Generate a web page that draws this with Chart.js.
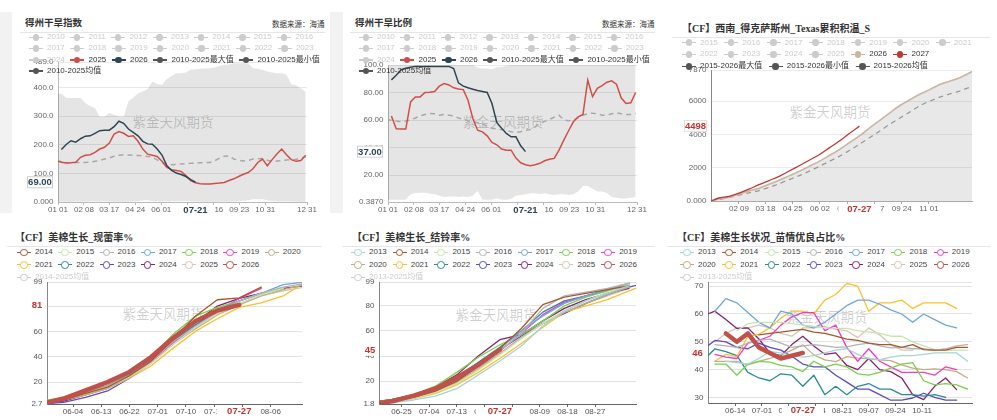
<!DOCTYPE html>
<html><head><meta charset="utf-8">
<script src="https://cdn.jsdelivr.net/npm/chart.js@4.4.1/dist/chart.umd.min.js"></script>
<style>
html,body{margin:0;padding:0;background:#fff;}
body{width:997px;height:420px;position:relative;overflow:hidden;font-family:"Liberation Sans","Noto Sans CJK SC",sans-serif;}
canvas{position:absolute;z-index:2;}
.strip{position:absolute;background:#f2f2f2;z-index:0;}
.title{position:absolute;font-family:"Liberation Serif","Noto Sans CJK SC",serif;font-weight:bold;color:#333;white-space:nowrap;line-height:1;z-index:3;}
.src{position:absolute;font-size:7.5px;color:#333;line-height:1;white-space:nowrap;z-index:3;font-family:"Noto Sans CJK SC";}
.sep{position:absolute;height:1px;background:#e6e6e6;z-index:3;}
.wm{position:absolute;font-family:"Noto Sans CJK SC";font-size:13.5px;color:rgba(0,0,0,0.2);line-height:1;white-space:nowrap;transform:translate(-50%,-50%);z-index:1;}
.lrow{position:absolute;display:flex;align-items:center;height:10px;white-space:nowrap;z-index:3;}
.li{display:flex;align-items:center;font-size:8px;line-height:1;}
.ic{position:relative;width:14px;height:8px;margin-right:4px;flex:none;}
.ic .ln{position:absolute;left:0;right:0;top:3.25px;height:1.5px;}
.ic .dt{position:absolute;border-radius:50%;box-sizing:border-box;}
</style></head><body>
<script>
// ---------- Panel 1 & 2 : 得州干旱指数 / 得州干旱比例 ----------
const D12 = [-2,5,12,19,26,33,40,47,54,61,68,75,82,89,96,103,110,117,124,131,138,145,152,159,166,173,180,187,194,201,208,215,222,229,236,243,250,257,264,271,278,285,292,299,306,313,320,327,334,341,348,355,362];
const P1_2025 = [144,139,136,137,139,156,163,165,173,185,191,206,237,246,240,229,231,212,185,167,163,159,142,121,113,110,107,92,75,67,64,63,63,65,66,68,75,81,89,97,103,116,138,150,127,148,168,185,165,148,142,145,163];
const P1_2026 = [null,183,201,214,209,221,230,231,240,249,251,251,263,282,275,255,243,231,212,203,202,185,164,127,110,101,96,89,78,69];
const P1_AVG = [144,141,137,137,138,138,138,139,142,145,150,154,160,163,165,164,163,162,161,159,157,147,138,133,130,131,133,134,135,136,137,138,138,144,153,160,161,150,146,143,145,150,151,152,146,142,143,145,147,148,149,152,158];
const P1_MAX = [378,378,363,363,363,363,345,335,328,299,299,310,305,299,299,352,365,380,386,395,421,412,409,430,440,450,450,452,462,464,465,466,467,470,475,479,480,485,485,485,485,467,465,462,456,452,450,450,445,412,408,397,385];
const P1_MIN = [1,1,1,1,1,1,1,2,2,2,2,1,1,1,1,1,2,3,6,6,3,2,2,2,3,3,3,3,2,2,1,1,1,1,1,1,1,2,3,4,6,10,10,10,6,3,2,2,2,2,1,1,1];
const P12_X_TICKS = [0,38,75,113,151,189,227,265,303,364];
const P12_X_LABELS = ['01 01','02 08','03 17','04 24','06 01','07 09','08 16','09 23','10 31','12 31'];
const P1_Y_TICKS = [0,100,200,300,400,489];
const P1_Y_LABELS = ['0.000','100.0','200.0','300.0','400.0','489.0'];

const P2_2025 = [null,63,53.6,53.4,53.4,73.2,76.8,76.8,80,80.2,80.7,84.6,86.5,85.5,83.4,82.6,82.1,74.4,61.1,52.6,51.4,48.5,43.7,42,38.9,38.1,38.1,32.3,28.9,27.5,26.8,27.5,28.5,30.4,31.4,32.1,38.1,45.4,52.2,58.7,62.3,64,89,77,83,85,87.5,88.5,86,76,72,72.5,80];
const P2_2026 = [null,89.2,92.5,96.4,97.6,98.3,99,99,99,99,99,99,99,99,97.4,87,84.6,83.4,82.4,81.4,80.7,80,72,58.2,54.1,50.2,47.8,47.8,41.3,37];
const P2_AVG = [60.4,59.8,59.2,58.7,59.3,60,61.5,63,64,64.8,64.5,63.5,64,63.5,63,61.5,60.5,59.5,59,58,57,55.5,54,53.5,53,52.5,51.5,51,51.5,52.5,53,55,57.5,59,60.5,62,63.5,60,59.5,60,61.5,63.5,64.5,65,64.5,63.5,63.5,64.5,65.3,64.5,64,64,64.8];
const P2_MAX = [100,100,100,100,100,100,100,100,100,100,100,100,100,100,100,100,100,100,100,98,97.5,97.5,97,98.5,98.5,99.5,100,100,100,100,100,100,100,100,100,100,100,100,100,100,100,100,100,100,100,100,100,100,100,100,100,100,100];
const P2_MIN = [2,2,2,2,2,6,7,7.2,7.2,6.5,6,5,4,4.3,4.3,4,4.3,4,5,8.4,2,2,2,3,2,2,2.5,5,5.5,6,6.7,6.7,6,6.7,6,5.5,6,6,5.5,6,8,12,12,10,8,8,7,4,3.5,3,3,3.5,4];
const P2_Y_TICKS = [0.387,20,40,60,80,100];
const P2_Y_LABELS = ['0.3870','20.00','40.00','60.00','80.00','100.0'];

// ---------- Panel 3 : Texas 累积积温 ----------
const D3 = [0,11,25,39,53,67,81,95,109,123,137,151,165,179,193,207,221,235,249,263,277,291,305,319,333,347,361,364];
const P3_MAX = [0,140,245,440,620,790,1030,1260,1540,1810,2110,2410,2760,3120,3530,3940,4410,4860,5310,5750,6100,6440,6720,7030,7230,7430,7740,7800];
const P3_2026 = [0,130,230,425,600,770,1010,1240,1510,1780,2080,2380,2730,3090,3500,3910,4380,4830,5280,5720,6070,6410,6690,7000,7200,7400,7710,7770];
const P3_AVG = [0,90,200,360,490,630,820,1040,1280,1520,1790,2080,2380,2680,3030,3410,3800,4190,4600,4970,5340,5720,6000,6240,6430,6600,6840,6870];
const P3_2027 = [0,180,280,470,710,980,1230,1480,1800,2120,2450,2780,3190,3600,4060,4498];
const P3_X_TICKS = [39,76,114,152,190,228,266,304];
const P3_X_LABELS = ['02 09','03 18','04 25','06 02','07 10','08 17','09 24','11 01'];
const P3_Y_TICKS = [0,2000,4000,6000,7870];
const P3_Y_LABELS = ['0.000','2000','4000','6000','7870'];

// ---------- Panel 4 : 现蕾率 ----------
const D4 = [144,151,158,165,172,179,186,193,200,207,214,221,228];
const P4_SERIES = {
  '2014':[3,6,11,16,25,37,54,72,85,86.5,95],
  '2015':[3.5,7,11,16,24,35,50,63,74,82,89,94],
  '2016':[3,6.5,11,17,25,37,52,64,75,84,90,95,98],
  '2017':[3.5,7,12,17,26,39,56,67,77,84,90,97,99],
  '2018':[5,8,12,17,26,40,58,72,79,84,90,94],
  '2019':[3,7,12,17,25,36,51,63,76,86,94],
  '2020':[3,6,10,15,23,35,50,62,73,81,88,93,97],
  '2021':[3,6,10,15,23,33,47,60,70,79,82.5,88,99],
  '2022':[3.5,7,12,17,26,38,53,65,76,84,90,94],
  '2023':[2.7,4,8,13,23,37,52,65,76,84,90,94],
  '2024':[2.7,5,10,15,25,40,55,67,80,86,90,94,96],
  '2025':[3,6,11,16,24,36,51,63,74,82,88,92,95],
  '2026':[2.7,7,13.5,20,28,40,55,68,76.5,81]
};
const P4_X_TICKS = [154,163,172,181,190,199,208,217];
const P4_X_LABELS = ['06-04','06-13','06-22','07-01','07-10','07-19','07-28','08-06'];
const P4_Y_TICKS = [2.7,20,40,60,80,99];
const P4_Y_LABELS = ['2.7','20','40','60','80','99'];

// ---------- Panel 5 : 结铃率 ----------
const D5 = [165,172,179,186,193,200,207,214,221,228,235,242,249,256];
const P5_SERIES = {
  '2013':[1.8,3,5,8,14,25,36,48,64,76,84,90,96],
  '2014':[2,5,7,12,20,32,46,62,81,87,90,93,96],
  '2015':[2.5,4,6.5,11,18,29,41,54,66,76,84,91,97],
  '2016':[2,4,7,12,20,31,44,58,78,88,91,94,98],
  '2017':[2,4.5,7.5,13,21,33,46,60,72,82,88,93,98],
  '2018':[3,5.5,9,16,27,39,49,57,68,80,87,92,96],
  '2019':[2,4,7,12,20,32,44,58,73,83,88,93,98],
  '2020':[2,4,7,12,19,30,42,55,66,75,82,89,95],
  '2021':[1.8,3.5,6,10,17,27,38,50,63,75,80,85,92,98],
  '2022':[3,5.5,9,14,23,35,47,60,75,84,88,92,97],
  '2023':[2,4,7,12,20,32,45,56,66,74,82,89,95,99],
  '2024':[3,5.5,9,15,25,40,53,57,68,78,85,90,94],
  '2025':[2,4,7,11,19,30,42,54,66,74,82,88,94],
  '2026':[1.8,4,8.5,14,23,33,45]
};
const P5_X_TICKS = [175,184,193,202,211,220,229,238];
const P5_X_LABELS = ['06-25','07-04','07-13','07-22','07-31','08-09','08-18','08-27'];
const P5_Y_TICKS = [1.8,20,40,60,80,99];
const P5_Y_LABELS = ['1.8','20','40','60','80','99'];

// ---------- Panel 6 : 苗情优良占比 ----------
const D6 = [144,151,158,165,172,179,186,193,200,207,214,221,228,235,242,249,256,263,270,277,284,291,298,305,312];
const P6_SERIES = {
  '2013':[null,null,43,42.5,42,44,46.5,46,45,44.5,45,46,47,47.5,45.5,44,43.5,44.5,45,45,45.5,46,46,46,43],
  '2014':[null,null,null,null,null,52.5,53,53.5,54,54.5,53.5,53,52,51,50.5,49.5,49,49,48,49,47.2,47,47,48,48],
  '2015':[null,null,null,54,56.5,57,57,57,56.5,56,55.5,55,54.8,54.8,54,53.5,53,52,52,50,48.5,47.2,46.8,47,47],
  '2016':[null,49,48.5,48,49.5,50.5,51,49.5,48,48.5,49,48.5,48,48.2,49,49.5,48.5,47.8,48,47.5,47.5,46.8,47.5,48.5,49],
  '2017':[null,61,65.5,64,60.5,57,55,61,60,56,55,57,60,63,65,65,63.5,61.5,60,57,60,58,56,55],
  '2018':[null,42,42,38,42,43,42.7,41.5,41,39.3,43,41,42,41,38.5,38,39,40.5,42,42.5,36,34.5,35,34.5,33],
  '2019':[null,45.5,44.5,44,49.5,50.5,52,56,59,60.5,60.5,54,56,48,43,47.5,43,41,39,39,39,38,41,40],
  '2020':[null,43,43,43,41.7,43,44,45.3,47,48.9,45.3,43.5,42.9,44.7,44.1,44,43.5,43.2,41.7,40.5,40,40.3,40,39.3,37],
  '2021':[null,43,45.5,44.7,52,52.7,55,58.5,61,61,60,65,67,71,70,61,64,64,65,62,64,64,64,62],
  '2022':[43.5,47.5,46.5,45,39,37,36,38.5,38,34,38,31,34,31,34,35,33,33,31,31,30.5,31,30],
  '2023':[47.5,50.5,50,48,47.5,49.5,48,47,44.8,42,41,41,38,35.5,33,33,31,29,29,29.8,31.5,30,29,29],
  '2024':[59.5,61,58,54.8,55,51,46,45,49,52,48.5,45.5,46,41.5,40,44,40,39.3,37,31,29.2,34,37,32.8],
  '2025':[null,50,53,55,55,56,55,53,52,55,55,55.5,54.5,54,51.5,55,52.5,49,47,47],
  '2026':[null,null,53,50,53,48,46,44,45,46]
};
const P6_X_TICKS = [164,181,198,215,232,249,266,283];
const P6_X_LABELS = ['06-14','07-01','07-18','08-04','08-21','09-07','09-24','10-11'];
const P6_Y_TICKS = [30,40,50,60,70,71.5];
const P6_Y_LABELS = ['30','40','50','60','70',''];

// ---------- styles ----------
const YEAR_COLORS = {'2013':'#a3d5d8','2014':'#a5582c','2015':'#c8e3b0','2016':'#b3b3b3','2017':'#6ea6dd','2018':'#78d14c','2019':'#ef3dc4','2020':'#c1ae82','2021':'#fbc02d','2022':'#2a8d92','2023':'#5b4cc0','2024':'#8a1f6c','2025':'#d6c6b4','2026':'#c0504a'};
const DIM = '#cccccc';

Chart.defaults.font.family = '"Liberation Sans","Noto Sans CJK SC",sans-serif';
Chart.defaults.font.size = 8;
Chart.defaults.color = '#666';

const hlPlugin = {
  id: 'hl',
  afterDraw(chart, args, o) {
    if (!o || !o.on) return;
    const ctx = chart.ctx, ca = chart.chartArea;
    const xs = chart.scales.x, ys = chart.scales.y;
    ctx.save();
    ctx.font = 'bold 9.5px "Liberation Sans"';
    ctx.textAlign = 'center'; ctx.textBaseline = 'middle';
    const x = xs.getPixelForValue(o.xVal);
    const hl = o.xHalfL || o.xHalf, hr = o.xHalfR || o.xHalf;
    ctx.fillStyle = '#fff';
    ctx.fillRect(x - hl, ca.bottom + 3.5, hl + hr, 13);
    ctx.fillStyle = o.xColor;
    ctx.fillText(o.xText, x, ca.bottom + o.xDy);
    const y = ys.getPixelForValue(o.yVal);
    const l = o.yBox[0] - o.offX, r = o.yBox[1] - o.offX;
    ctx.fillStyle = '#fff';
    ctx.fillRect(l, y - 6, r - l, 12);
    if (o.yBorder) { ctx.strokeStyle = o.yBorder; ctx.lineWidth = 1; ctx.strokeRect(l + 0.5, y - 5.5, r - l - 1, 11); }
    ctx.fillStyle = o.yColor;
    ctx.fillText(o.yText, (l + r) / 2, y + 0.5);
    ctx.restore();
  }
};
Chart.register(hlPlugin);

function pts(D, vals) { return vals.map((v, i) => ({x: D[i], y: v})); }

function el(cls, css, text) {
  const d = document.createElement('div');
  d.className = cls; Object.assign(d.style, css);
  if (text !== undefined) d.textContent = text;
  document.body.appendChild(d); return d;
}

function legendRow(left, cy, gap, items, hollow) {
  const row = el('lrow', {left: left + 'px', top: (cy - 5) + 'px', gap: gap + 'px'});
  items.forEach(([text, color, tc]) => {
    const it = document.createElement('div'); it.className = 'li'; it.style.color = tc;
    const ic = document.createElement('span'); ic.className = 'ic';
    const ln = document.createElement('span'); ln.className = 'ln'; ln.style.background = color;
    const dt = document.createElement('span'); dt.className = 'dt';
    if (hollow) {
      Object.assign(dt.style, {left: '3px', top: '0.5px', width: '7.5px', height: '7.5px', border: '1.2px solid ' + color, background: '#fff'});
    } else {
      Object.assign(dt.style, {left: '3.5px', top: '0.8px', width: '6.5px', height: '6.5px', background: color});
    }
    ic.append(ln, dt); it.append(ic, document.createTextNode(text)); row.appendChild(it);
  });
}

function mkChart(box, yW, xH, xr, yr, xt, xl, yt, yl, datasets, hl, axis) {
  const padT = 10, padR = 14;
  const c = document.createElement('canvas');
  const left = box.l - yW, top = box.t - padT;
  const w = box.r - box.l + yW + padR, h = box.b - box.t + padT + xH;
  c.width = w; c.height = h;
  Object.assign(c.style, {left: left + 'px', top: top + 'px', width: w + 'px', height: h + 'px'});
  document.body.appendChild(c);
  hl.offX = left; hl.on = true;
  const zero = s => { s.paddingLeft = 0; s.paddingRight = 0; s.paddingTop = 0; s.paddingBottom = 0; };
  new Chart(c, {
    type: 'line',
    data: {datasets},
    options: {
      responsive: false, animation: false, devicePixelRatio: 1, events: [],
      layout: {padding: {top: padT, right: padR, left: 0, bottom: 0}},
      elements: {point: {radius: 0}},
      plugins: {legend: {display: false}, tooltip: {enabled: false}, hl},
      scales: {
        x: {
          type: 'linear', min: xr[0], max: xr[1],
          afterBuildTicks: s => { s.ticks = xt.map(v => ({value: v})); },
          afterFit: s => { s.height = xH; zero(s); },
          ticks: {autoSkip: false, maxRotation: 0, minRotation: 0, padding: 0, color: axis.tc,
            callback: v => { const i = xt.indexOf(v); return i >= 0 ? xl[i] : ''; }},
          grid: {drawOnChartArea: false, drawTicks: true, tickLength: 3, color: axis.xc},
          border: {display: true, color: axis.xc}
        },
        y: {
          type: 'linear', min: yr[0], max: yr[1],
          afterBuildTicks: s => { s.ticks = yt.map(v => ({value: v})); },
          afterFit: s => { s.width = yW; zero(s); },
          ticks: {autoSkip: false, padding: 4.5, color: axis.tc,
            callback: v => { const i = yt.indexOf(v); return i >= 0 ? yl[i] : ''; }},
          grid: {drawTicks: false, color: axis.gc},
          border: {display: true, color: axis.yc}
        }
      }
    }
  });
}

// ---------- page furniture ----------
el('strip', {left: '0px', top: '12px', width: '12px', height: '201px'});
el('strip', {left: '330px', top: '12px', width: '13px', height: '201px'});

const TOP_AXIS = {tc: '#666', xc: '#bbb', yc: '#bbb', gc: '#e8e8e8'};
const BOT_AXIS = {tc: '#555', xc: '#666', yc: '#888', gc: '#e3e3e3'};
const BAND = 'rgba(0,0,0,0.1)';

// ===== Panel 1 =====
el('title', {left: '25px', top: '18.5px', fontSize: '9.5px'}, '得州干旱指数');
el('src', {left: '272px', top: '19.5px'}, '数据来源：海通');
el('sep', {left: '20px', top: '32px', width: '305px'});
el('wm', {left: '173px', top: '122px'}, '紫金天风期货');
function topLegend(left, prefix) {
  const dimY = y => [y, DIM, DIM];
  legendRow(left, 37.3, 5.7, ['2010','2011','2012','2013','2014','2015','2016'].map(dimY));
  legendRow(left, 48.3, 5.7, ['2017','2018','2019','2020','2021','2022','2023'].map(dimY));
  legendRow(left, 60, 5.7, [['2024', DIM, DIM], ['2025', '#cf4f48', '#333'], ['2026', '#2f4554', '#333'],
    [prefix + '最大值', '#555', '#333'], [prefix + '最小值', '#555', '#333']]);
  legendRow(left, 71, 5.7, [[prefix + '均值', '#555', '#333']]);
}
topLegend(29, '2010-2025');
mkChart({l: 58, t: 62, r: 307, b: 202}, 45, 18, [0, 364], [0, 489], P12_X_TICKS, P12_X_LABELS, P1_Y_TICKS, P1_Y_LABELS, [
  {data: pts(D12, P1_2026), borderColor: '#2f4554', borderWidth: 1.5, tension: 0},
  {data: pts(D12, P1_2025), borderColor: '#cf4f48', borderWidth: 1.5, tension: 0},
  {data: pts(D12, P1_AVG), borderColor: '#a8a8a8', borderWidth: 1.5, borderDash: [5, 4], tension: 0},
  {data: pts(D12, P1_MAX), borderWidth: 0, borderColor: 'rgba(0,0,0,0)', backgroundColor: BAND, fill: '+1', tension: 0},
  {data: pts(D12, P1_MIN), borderWidth: 0, borderColor: 'rgba(0,0,0,0)', tension: 0}
], {xVal: 201, xText: '07-21', xColor: '#2f4554', xHalf: 18.5, xDy: 8.7, yVal: 69, yText: '69.00', yColor: '#2f4554', yBox: [27, 53], yBorder: '#cfcfcf'}, TOP_AXIS);

// ===== Panel 2 =====
el('title', {left: '355px', top: '18.5px', fontSize: '9.5px'}, '得州干旱比例');
el('src', {left: '602px', top: '19.5px'}, '数据来源：海通');
el('sep', {left: '350px', top: '32px', width: '305px'});
el('wm', {left: '503px', top: '122px'}, '紫金天风期货');
topLegend(359, '2010-2025');
mkChart({l: 388, t: 65, r: 637, b: 202}, 40, 18, [0, 364], [0.387, 100], P12_X_TICKS, P12_X_LABELS, P2_Y_TICKS, P2_Y_LABELS, [
  {data: pts(D12, P2_2026), borderColor: '#2f4554', borderWidth: 1.5, tension: 0},
  {data: pts(D12, P2_2025), borderColor: '#cf4f48', borderWidth: 1.5, tension: 0},
  {data: pts(D12, P2_AVG), borderColor: '#a8a8a8', borderWidth: 1.5, borderDash: [5, 4], tension: 0},
  {data: pts(D12, P2_MAX), borderWidth: 0, borderColor: 'rgba(0,0,0,0)', backgroundColor: BAND, fill: '+1', tension: 0},
  {data: pts(D12, P2_MIN), borderWidth: 0, borderColor: 'rgba(0,0,0,0)', tension: 0}
], {xVal: 201, xText: '07-21', xColor: '#2f4554', xHalf: 18.5, xDy: 8.7, yVal: 37, yText: '37.00', yColor: '#2f4554', yBox: [357, 383], yBorder: '#cfcfcf'}, TOP_AXIS);

// ===== Panel 3 =====
el('title', {left: '682px', top: '24px', fontSize: '10px'}, '【CF】西南_得克萨斯州_Texas累积积温_S');
el('sep', {left: '672px', top: '37px', width: '318px'});
el('wm', {left: '830px', top: '112px'}, '紫金天风期货');
legendRow(682, 42.7, 6.5, ['2015','2016','2017','2018','2019','2020','2021'].map(y => [y, DIM, DIM]));
legendRow(682, 54.3, 6.5, [['2022', DIM, DIM], ['2023', DIM, DIM], ['2024', DIM, DIM], ['2025', DIM, DIM], ['2026', '#c9b7a4', '#333'], ['2027', '#c23531', '#333']]);
legendRow(682, 66.3, 6.5, [['2015-2026最大值', '#555', '#333'], ['2015-2026最小值', '#555', '#333'], ['2015-2026均值', '#555', '#333']]);
mkChart({l: 711, t: 70, r: 972, b: 201}, 32, 18, [0, 364], [0, 7870], P3_X_TICKS, P3_X_LABELS, P3_Y_TICKS, P3_Y_LABELS, [
  {data: pts(D3, P3_2027), borderColor: '#c23531', borderWidth: 1.3, tension: 0.3},
  {data: pts(D3, P3_2026), borderColor: '#c9b7a4', borderWidth: 1.6, tension: 0.3},
  {data: pts(D3, P3_AVG), borderColor: '#9a9a9a', borderWidth: 1.3, borderDash: [5, 4], tension: 0.3},
  {data: pts(D3, P3_MAX), borderWidth: 0.8, borderColor: 'rgba(0,0,0,0.12)', backgroundColor: 'rgba(0,0,0,0.09)', fill: 'origin', tension: 0.3}
], {xVal: 207, xText: '07-27', xColor: '#c23531', xHalf: 21, xDy: 8, yVal: 4498, yText: '4498', yColor: '#c23531', yBox: [684, 707], yBorder: '#e0e0e0'},
{tc: '#666', xc: '#aaa', yc: '#888', gc: '#ececec'});

// ===== bottom panels =====
function bottomLegend(left, gap, row1, row2, avgName) {
  const mk = y => [y, YEAR_COLORS[y], '#444'];
  legendRow(left, 252.3, gap, row1.map(mk), true);
  legendRow(left, 264.7, gap, row2.map(mk), true);
  legendRow(left, 277.3, gap, [[avgName, DIM, DIM]], true);
}
function yearSets(D, S) {
  const keys = Object.keys(S);
  const sets = [];
  keys.forEach(k => {
    const cur = k === '2026';
    sets.push({data: pts(D, S[k]), borderColor: YEAR_COLORS[k], borderWidth: cur ? 4.5 : 1.3,
      tension: 0, borderCapStyle: 'round', borderJoinStyle: 'round', order: cur ? 0 : 1});
  });
  return sets;
}

// Panel 4
el('title', {left: '15px', top: '233px', fontSize: '10px'}, '【CF】美棉生长_现蕾率%');
el('sep', {left: '7px', top: '246px', width: '315px'});
el('wm', {left: '163px', top: '314px'}, '紫金天风期货');
bottomLegend(17, 5.5, ['2014','2015','2016','2017','2018','2019','2020'], ['2021','2022','2023','2024','2025','2026'], '2014-2025均值');
mkChart({l: 47, t: 282, r: 302, b: 404}, 40, 18, [145.7, 227], [2.7, 99], P4_X_TICKS, P4_X_LABELS, P4_Y_TICKS, P4_Y_LABELS,
  yearSets(D4, P4_SERIES),
  {xVal: 207, xText: '07-27', xColor: '#c23531', xHalfL: 22.3, xHalfR: 19, xDy: 7.7, yVal: 81, yText: '81', yColor: '#c23531', yBox: [30, 44]}, BOT_AXIS);

// Panel 5
el('title', {left: '352px', top: '233px', fontSize: '10px'}, '【CF】美棉生长_结铃率%');
el('sep', {left: '342px', top: '246px', width: '313px'});
el('wm', {left: '496px', top: '315px'}, '紫金天风期货');
bottomLegend(351, 5.9, ['2013','2014','2015','2016','2017','2018','2019'], ['2020','2021','2022','2023','2024','2025','2026'], '2013-2025均值');
mkChart({l: 379, t: 282, r: 636, b: 404}, 30, 18, [167.7, 251.3], [1.8, 99], P5_X_TICKS, P5_X_LABELS, P5_Y_TICKS, P5_Y_LABELS,
  yearSets(D5, P5_SERIES),
  {xVal: 207, xText: '07-27', xColor: '#c23531', xHalf: 24, xDy: 7.7, yVal: 45, yText: '45', yColor: '#c23531', yBox: [363, 377]}, BOT_AXIS);

// Panel 6
el('title', {left: '677px', top: '233px', fontSize: '10px'}, '【CF】美棉生长状况_苗情优良占比%');
el('sep', {left: '667px', top: '245.5px', width: '323px'});
el('wm', {left: '827px', top: '317px'}, '紫金天风期货');
bottomLegend(680, 6.5, ['2013','2014','2015','2016','2017','2018','2019'], ['2020','2021','2022','2023','2024','2025','2026'], '2013-2025均值');
mkChart({l: 708, t: 282, r: 972, b: 403}, 30, 18, [146.6, 314.8], [28, 71.5], P6_X_TICKS, P6_X_LABELS, P6_Y_TICKS, P6_Y_LABELS,
  yearSets(D6, P6_SERIES),
  {xVal: 207, xText: '07-27', xColor: '#c23531', xHalf: 21, xDy: 7.7, yVal: 46, yText: '46', yColor: '#c23531', yBox: [690, 705]}, BOT_AXIS);
</script>
</body></html>
